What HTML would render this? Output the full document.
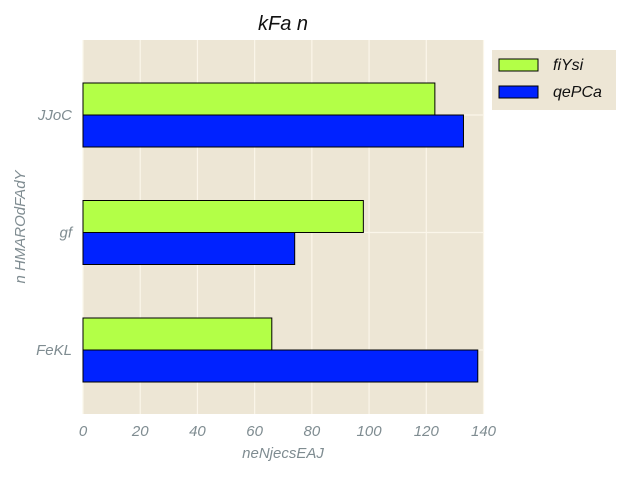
<!DOCTYPE html>
<html><head><meta charset="utf-8"><style>
body{margin:0;background:#fff;}
svg text{font-family:"Liberation Sans",sans-serif;font-style:italic;}
</style></head><body>
<svg id="chart" width="632" height="474" xmlns="http://www.w3.org/2000/svg">
<rect x="83" y="40" width="401" height="374" fill="#EDE6D5"/>
<g id="grid"></g>
<g id="bars"></g>
<g id="ticks"></g>
<text x="283" y="30" font-size="20" text-anchor="middle" fill="#111">kFa n</text>
<text x="283" y="458" font-size="15" text-anchor="middle" fill="#7F8C91">neNjecsEAJ</text>
<text transform="translate(25,227) rotate(-90)" font-size="15" text-anchor="middle" fill="#7F8C91">n HMAROdFAdY</text>
<g>
<rect x="492" y="50" width="124" height="60" fill="#EDE6D5"/>
<rect x="499" y="59" width="39" height="12" fill="#B3FF47" stroke="#000" stroke-width="1"/>
<text x="553" y="70" font-size="16" fill="#111">fiYsi</text>
<rect x="499" y="86" width="39" height="12" fill="#0022FF" stroke="#000" stroke-width="1"/>
<text x="553" y="97" font-size="16" fill="#111">qePCa</text>
</g>
</svg>
<script>
const categories = ["JJoC","gf","FeKL"];
const seriesFiYsi = [123, 98, 66];
const seriesQePCa = [133, 74, 138];
const xTicks = [0,20,40,60,80,100,120,140];

const NS="http://www.w3.org/2000/svg";
const X0=83, X1=483.5, XMAX=140;
function xs(v){return X0+(v/XMAX)*(X1-X0);}
function yc(i){return 115+i*117.5;}
const BH=32;
function mk(tag,attrs,parent){const e=document.createElementNS(NS,tag);for(const k in attrs)e.setAttribute(k,attrs[k]);parent.appendChild(e);return e;}
const grid=document.getElementById('grid'),bars=document.getElementById('bars'),ticks=document.getElementById('ticks');
xTicks.forEach(t=>{
  const l=mk('line',{x1:xs(t),x2:xs(t),y1:40,y2:414,stroke:'#FBF6EA','stroke-width':1.2},grid);
  
  
  const tx=mk('text',{x:xs(t),y:436,'font-size':15,'text-anchor':'middle',fill:'#7F8C91'},ticks);
  tx.textContent=t;
  
  
});
categories.forEach((c,i)=>{
  const l=mk('line',{x1:X0,x2:X1,y1:yc(i),y2:yc(i),stroke:'#FBF6EA','stroke-width':1.2},grid);
  
  
  const tx=mk('text',{x:72,y:yc(i)+5,'font-size':15,'text-anchor':'end',fill:'#7F8C91'},ticks);
  tx.textContent=c;
  
  
  const g=mk('rect',{x:X0,y:yc(i)-BH,width:xs(seriesFiYsi[i])-X0,height:BH,fill:'#B3FF47',stroke:'#000','stroke-width':1},bars);
  
  
  const b=mk('rect',{x:X0,y:yc(i),width:xs(seriesQePCa[i])-X0,height:BH,fill:'#0022FF',stroke:'#000','stroke-width':1},bars);
  
  
});
</script>
</body></html>
